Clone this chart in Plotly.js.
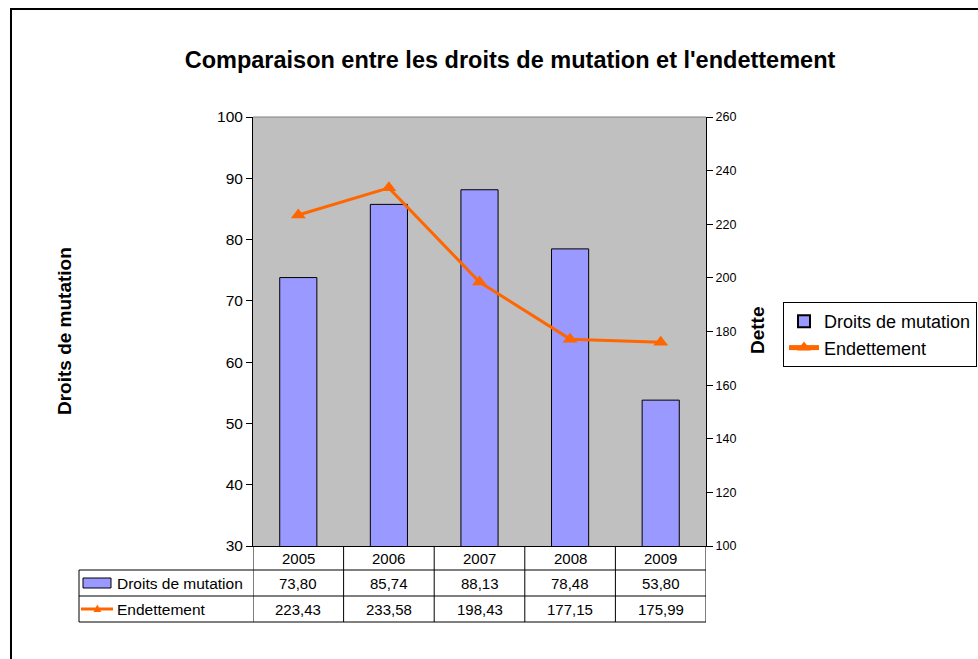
<!DOCTYPE html>
<html><head><meta charset="utf-8">
<script src="https://cdn.plot.ly/plotly-3.0.1.min.js"></script>
<style>html,body{margin:0;padding:0;background:#fff}#chart{width:978px;height:659px}</style>
</head><body><div id="chart"></div>
<script>
const years = ['2005','2006','2007','2008','2009'];
const droits = [73.80, 85.74, 88.13, 78.48, 53.80];
const endettement = [223.43, 233.58, 198.43, 177.15, 175.99];
const seriesNames = ['Droits de mutation', 'Endettement'];

// layout geometry (pixels)
const W = 978, H = 659, L = 253, R = 706, T = 117, B = 546;
const px = x => (x - L) / (R - L);
const py = y => (B - y) / (B - T);
const rowHdr = 558, row1 = 583, row2 = 609;
const fmt = v => v.toFixed(2).replace('.', ',');
const idx = years.map((_, i) => i);

const traces = [
  {type:'bar', x: idx, y: droits, name: seriesNames[0], width: 0.41,
   marker:{color:'#9999FF', line:{color:'#000000', width:1}}, yaxis:'y'},
  {type:'scatter', mode:'lines+markers', x: idx, y: endettement, name: seriesNames[1], yaxis:'y2',
   line:{color:'#FF6600', width:3}, marker:{symbol:'triangle-up', size:13, color:'#FF6600'}}
];

const shapes = [];
const line = (x0,y0,x1,y1,c,w) => shapes.push({type:'line', xref:'paper', yref:'paper', x0, y0, x1, y1, line:{color:c||'#000', width:w||1}});
// outer border
shapes.push({type:'rect', xref:'paper', yref:'paper', x0:px(11), y0:py(9), x1:px(990), y1:py(700), line:{color:'#000', width:2}});
// plot top border
line(0, 1, 1, 1, '#808080', 1);
// table horizontal lines
[570, 596, 622].forEach(y => line(px(79), py(y), 1, py(y)));
// table vertical lines on category boundaries
for (let k = 0; k <= years.length; k++) {
  shapes.push({type:'line', xref:'x', yref:'paper', x0:k-0.5, x1:k-0.5, y0:py(546), y1:py(622), line:{color:'#000', width:1}});
}
line(px(79), py(570), px(79), py(622));
// legend key in table: bar swatch
shapes.push({type:'rect', xref:'paper', yref:'paper', x0:px(83), x1:px(111), y0:py(578), y1:py(588), fillcolor:'#9999FF', line:{color:'#000', width:1}});
// legend key: line
line(px(81), py(row2), px(113), py(row2), '#FF6600', 3);

const ann = (o) => annotations.push(Object.assign({showarrow:false, xanchor:'center', yanchor:'middle'}, o));
const annotations = [];
years.forEach((yr, i) => {
  ann({xref:'x', yref:'paper', x:i, y:py(rowHdr), text:yr, font:{size:15}});
  ann({xref:'x', yref:'paper', x:i, y:py(row1), text:fmt(droits[i]), font:{size:15}});
  ann({xref:'x', yref:'paper', x:i, y:py(row2), text:fmt(endettement[i]), font:{size:15}});
});
ann({xref:'paper', yref:'paper', x:px(115), xanchor:'left', y:py(row1), text:seriesNames[0], font:{size:15.5}});
ann({xref:'paper', yref:'paper', x:px(115), xanchor:'left', y:py(row2), text:seriesNames[1], font:{size:15.5}});
ann({xref:'paper', yref:'paper', x:px(97), y:py(row2-2), text:'▲', font:{size:13, color:'#FF6600'}});
// axis titles
ann({xref:'paper', yref:'paper', x:px(64), y:py(331), text:'<b>Droits de mutation</b>', textangle:-90, font:{size:19}});
ann({xref:'paper', yref:'paper', x:px(757), y:py(330), text:'<b>Dette</b>', textangle:-90, font:{size:19}});

const layout = {
  width: W, height: H,
  margin:{l:L, r:W-R, t:T, b:H-B, pad:0, autoexpand:false},
  paper_bgcolor:'#ffffff', plot_bgcolor:'#C0C0C0',
  font:{family:'Liberation Sans, Arial, sans-serif', color:'#000', size:14},
  title:{text:'<b>Comparaison entre les droits de mutation et l\'endettement</b>', font:{size:23.5},
         xref:'paper', x:px(510), xanchor:'center', yref:'container', y:1-60/H, yanchor:'middle'},
  showlegend:true,
  legend:{x:px(783), xanchor:'left', y:py(302), yanchor:'top', bgcolor:'#fff', bordercolor:'#000', borderwidth:1,
          font:{size:18}, tracegroupgap:0, itemsizing:'constant'},
  xaxis:{range:[-0.5, 4.5], showticklabels:false, ticks:'', showgrid:false, zeroline:false, showline:true, linecolor:'#000', linewidth:1, fixedrange:true},
  yaxis:{range:[30,100], dtick:10, ticks:'outside', ticklen:6, tickcolor:'#000', showgrid:false, zeroline:false,
         showline:true, linecolor:'#000', linewidth:1, tickfont:{size:15.5}},
  yaxis2:{range:[100,260], dtick:20, overlaying:'y', side:'right', ticks:'outside', ticklen:6, tickcolor:'#000',
          showgrid:false, zeroline:false, showline:true, linecolor:'#000', linewidth:1, tickfont:{size:12.5}},
  shapes, annotations, bargap:0.59
};
Plotly.newPlot('chart', traces, layout, {staticPlot:true, displayModeBar:false});
</script></body></html>
